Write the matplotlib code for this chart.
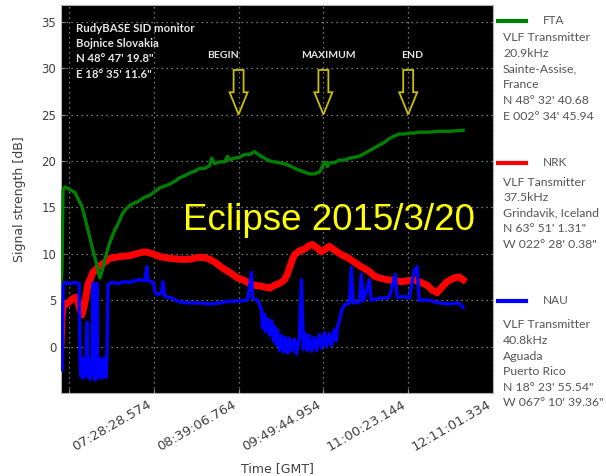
import matplotlib
matplotlib.use("Agg")
import matplotlib.pyplot as plt
from matplotlib.lines import Line2D

# time axis in minutes after 00:00 GMT, signal in dB
fta_t = [371.2, 372.0, 372.9, 374.5, 378.7, 382.8, 387.0, 388.6, 391.1, 393.6,
         395.3, 397.8, 399.4, 401.1, 401.9, 403.6, 405.3, 407.8, 410.3, 411.9,
         413.6, 416.1, 418.6, 421.9, 424.4, 428.5, 432.7, 435.2, 438.5, 441.0,
         445.2, 449.3, 453.5, 457.6, 461.8, 465.9, 470.1, 474.2, 478.4, 482.6,
         486.7, 490.9, 495.0, 496.7, 499.2, 503.3, 507.5, 510.0, 511.6, 515.8,
         519.9, 524.1, 528.3, 532.4, 536.6, 540.7, 544.9, 549.0, 553.2, 557.3,
         561.5, 565.7, 569.8, 574.0, 578.1, 582.3, 586.4, 588.1, 590.6, 593.1,
         594.7, 598.9, 603.0, 607.2, 611.4, 615.5, 619.7, 623.8, 628.0, 632.1,
         636.3, 640.4, 644.6, 648.8, 652.9, 657.1, 661.2, 665.4, 669.5, 677.8,
         686.1, 694.5, 706.1]
fta_db = [6.9, 8.1, 16.9, 17.2, 16.9, 16.6, 15.5, 15.1, 13.9, 12.6,
          11.7, 10.4, 9.6, 8.8, 8.1, 7.4, 8.1, 9.4, 10.6, 11.2,
          11.8, 12.6, 13.2, 14.2, 14.7, 15.2, 15.5, 15.6, 15.9, 16.1,
          16.3, 16.7, 17.1, 17.3, 17.5, 17.8, 18.2, 18.4, 18.7, 18.9,
          19.2, 19.2, 19.5, 20.3, 19.7, 19.9, 19.9, 20.5, 20.1, 20.3,
          20.4, 20.7, 20.7, 21.0, 20.6, 20.3, 20.0, 19.9, 19.8, 19.7,
          19.5, 19.2, 19.0, 18.8, 18.6, 18.6, 18.8, 19.2, 19.9, 19.4,
          19.8, 19.8, 20.1, 20.1, 20.3, 20.4, 20.5, 20.8, 21.1, 21.4,
          21.7, 22.0, 22.4, 22.7, 22.9, 22.9, 23.0, 23.0, 23.1, 23.1,
          23.2, 23.2, 23.3]

nrk_t = [371.2, 372.0, 372.9, 374.5, 377.0, 380.3, 382.8, 384.5, 385.3, 387.0,
         388.6, 390.3, 392.0, 393.6, 395.3, 397.8, 400.3, 401.9, 403.6, 407.8,
         411.9, 416.1, 420.2, 428.5, 436.8, 441.0, 445.2, 449.3, 453.5, 461.8,
         470.1, 478.4, 485.0, 490.9, 495.0, 499.2, 503.3, 507.5, 511.6, 518.3,
         524.1, 528.3, 532.4, 538.2, 544.9, 549.0, 553.2, 557.3, 559.8, 561.5,
         564.0, 565.7, 569.8, 574.0, 578.1, 580.6, 584.8, 588.1, 591.4, 594.7,
         598.9, 604.7, 609.7, 615.5, 621.3, 628.0, 632.1, 636.3, 642.9, 648.8,
         654.6, 661.2, 665.4, 669.5, 676.2, 680.3, 684.5, 687.8, 692.8, 698.6,
         702.8, 706.1]
nrk_db = [0.2, 2.9, 4.5, 4.5, 4.7, 5.1, 5.3, 5.3, 4.8, 4.0,
          3.4, 4.2, 5.4, 6.7, 7.2, 8.0, 8.3, 8.6, 8.7, 9.1,
          9.5, 9.6, 9.7, 9.8, 10.1, 10.2, 10.1, 9.9, 9.7, 9.5,
          9.4, 9.4, 9.6, 9.6, 9.4, 9.1, 8.7, 8.3, 8.0, 7.4,
          7.1, 6.8, 6.6, 6.5, 6.3, 6.6, 6.8, 7.2, 7.8, 8.5,
          9.4, 9.9, 10.3, 10.5, 10.9, 11.0, 10.6, 10.2, 10.5, 10.8,
          10.4, 9.9, 9.6, 9.1, 8.6, 8.1, 7.6, 7.4, 7.2, 7.1,
          7.0, 7.1, 7.2, 7.0, 6.6, 6.1, 5.8, 6.3, 7.0, 7.4,
          7.5, 7.2]

nau_t = [371.2, 372.0, 372.9, 374.5, 378.7, 382.8, 385.3, 386.2,
         387.0, 387.8, 388.6, 389.4, 390.3, 391.1, 392.0, 392.8, 393.6, 394.4,
         395.3, 396.1, 397.0, 397.8, 398.6, 399.4, 400.3, 401.1, 401.9, 402.8,
         403.6, 404.4, 405.3, 406.1, 406.9, 407.8, 408.6, 409.4,
         410.3, 413.6, 418.6, 424.4, 428.5, 432.7, 436.8, 441.0, 442.7, 443.5,
         446.8, 448.5, 449.3, 451.8, 455.1, 456.0, 457.6, 461.8, 470.1, 478.4,
         486.7, 495.0, 503.3, 511.6, 519.9, 526.6, 529.9, 530.8, 534.9,
         538.2, 539.0, 540.7, 541.5, 543.2, 544.9, 546.6, 548.2, 549.0, 550.7,
         551.5, 553.2, 554.8, 556.5, 558.1, 559.8, 561.5, 563.1, 565.7, 567.3,
         569.8, 571.5, 573.1, 574.8, 576.5, 578.1, 579.8, 582.3, 584.0, 586.4,
         588.1, 590.6, 592.3, 594.7, 596.4, 598.9, 600.5, 601.4,
         603.0, 604.7, 607.2, 609.7, 611.4, 613.0, 614.7,
         619.7, 621.3, 623.0, 628.0, 629.6, 636.3, 644.6, 649.6, 651.2, 657.1,
         661.2, 665.4, 667.9, 669.5, 677.8, 686.1, 694.5, 702.8, 706.1]
nau_db = [-1.4, -2.5, 6.7, 6.9, 6.8, 6.9, 6.8, 6.8,
          -0.9, -3.2, -1.2, -3.4, -1.5, -3.0, -1.6, 2.6, -3.3, -1.4,
          -3.5, -1.8, -3.0, 6.8, -2.0, -3.6, -1.5, 6.8, -3.4, -1.6,
          -3.2, -1.3, -3.4, -1.7, -3.0, -1.2, -3.3, -1.4,
          6.7, 6.9, 6.8, 7.0, 6.9, 7.1, 7.2, 7.1, 8.6, 7.1,
          7.0, 6.7, 5.9, 5.6, 5.8, 7.0, 5.4, 5.3, 4.8, 4.7,
          4.7, 4.6, 4.7, 4.9, 4.9, 5.0, 8.0, 5.2, 5.0,
          4.0, 2.0, 3.5, 1.6, 3.0, 1.2, 2.8, 0.6, 2.2, 0.2,
          1.8, -0.4, 1.2, -0.6, 1.0, -0.7, 0.9, -0.5, 0.8, -0.8,
          0.9, 7.2, -0.3, 1.4, -0.4, 1.2, -0.5, 1.0, -0.4, 1.3,
          -0.2, 1.5, 0.0, 1.4, 0.1, 1.8, 0.6, 2.2,
          2.7, 3.8, 4.5, 4.6, 4.7, 8.5, 4.7,
          4.8, 7.8, 4.9, 7.2, 5.0, 5.2, 5.3, 7.8, 5.3, 5.4,
          5.2, 8.2, 8.6, 5.0, 5.0, 4.7, 4.6, 4.7, 4.2]

tick_t = [377.840, 448.476, 519.113, 589.749, 660.386, 731.022]
tick_labels = ["", "07:28:28.574", "08:39:06.764", "09:49:44.954",
               "11:00:23.144", "12:11:01.334"]

events = ["BEGIN", "MAXIMUM", "END"]
event_t = [519.113, 589.749, 660.386]
event_label_t = [505.8, 594.3, 663.3]

station_names = ["FTA", "NRK", "NAU"]
station_colors = ["#008000", "#ff0000", "#0000ff"]
station_info = [
    ["VLF Transmitter", "20.9kHz", "Sainte-Assise,", "France",
     "N 48° 32' 40.68", "E 002° 34' 45.94"],
    ["VLF Tansmitter", "37.5kHz", "Grindavik, Iceland",
     "N 63° 51' 1.31\"", "W 022° 28' 0.38\""],
    ["VLF Transmitter", "40.8kHz", "Aguada", "Puerto Rico",
     "N 18° 23' 55.54\"", "W 067° 10' 39.36\""],
]
monitor_info = ["RudyBASE SID monitor", "Bojnice Slovakia",
                "N 48° 47' 19.8\"", "E 18° 35' 11.6\""]

W, H = 606, 476
fig = plt.figure(figsize=(W / 100, H / 100), dpi=100)
ax = fig.add_axes([61 / W, 1 - 393 / H, 432 / W, 388 / H])
ax.set_facecolor("black")

ax.plot(nrk_t, nrk_db, color=station_colors[1], lw=5, zorder=2)
ax.plot(nau_t, nau_db, color=station_colors[2], lw=2.4, zorder=3)
ax.plot(fta_t, fta_db, color=station_colors[0], lw=2.4, zorder=4)

ax.set_xlim(371.19, 731.02)
ax.set_ylim(-5, 36.8)
ax.set_yticks([0, 5, 10, 15, 20, 25, 30, 35])
ax.set_xticks(tick_t)
ax.set_xticklabels(tick_labels, rotation=30, ha="right", fontsize=9.5, color="#404040")
ax.tick_params(axis="y", labelsize=8.5, labelcolor="#404040")
ax.tick_params(direction="in", length=3, color="#909090")
ax.grid(True, color="#9a9a9a", linestyle=(0, (1, 3)), linewidth=0.9)
for s in ax.spines.values():
    s.set_color("#b0b0b0")

ax.set_ylabel("Signal strength [dB]", fontsize=9, color="#404040", labelpad=11)
ax.set_xlabel("Time [GMT]", fontsize=9, color="#404040", labelpad=6)

# station / monitor notes
for i, line in enumerate(monitor_info):
    ax.text(76 / W, 1 - (28 + i * 15.4) / H, line, transform=fig.transFigure,
            fontsize=8.2, fontweight="bold", color="#e6e6e6", family="Lato",
            va="center", ha="left")

# eclipse phases
for name, t, tl in zip(events, event_t, event_label_t):
    ax.text(tl, 31.4, name, fontsize=7.5, fontweight="bold", color="#e6e6e6",
            family="Lato", ha="center", va="center")
    ax.arrow(t, 29.8, 0, -4.8, width=8.3, head_width=15, head_length=2.4,
             length_includes_head=True, fill=False, edgecolor="#c8c000",
             linewidth=1.3, zorder=5)

ax.text(472.6, 12.6, "Eclipse 2015/3/20", fontsize=26.5, color="#ffff00",
        family="Liberation Sans", ha="left", va="baseline", zorder=6)

# legend column on the right
blocks = [(21, 38), (163, 182), (301, 325)]
for name, color, info, (ly, ty) in zip(station_names, station_colors, station_info, blocks):
    fig.add_artist(Line2D([498 / W, 526 / W], [1 - ly / H, 1 - ly / H],
                          color=color, lw=3, transform=fig.transFigure))
    fig.text(543 / W, 1 - ly / H, name, fontsize=8.5, color="#555555",
             family="Lato", va="center", ha="left")
    for i, line in enumerate(info):
        fig.text(503 / W, 1 - (ty + i * 15.6) / H, line, fontsize=8.8,
                 color="#555555", family="Lato", va="center", ha="left")

fig.savefig("out.png", dpi=100, facecolor="white")
